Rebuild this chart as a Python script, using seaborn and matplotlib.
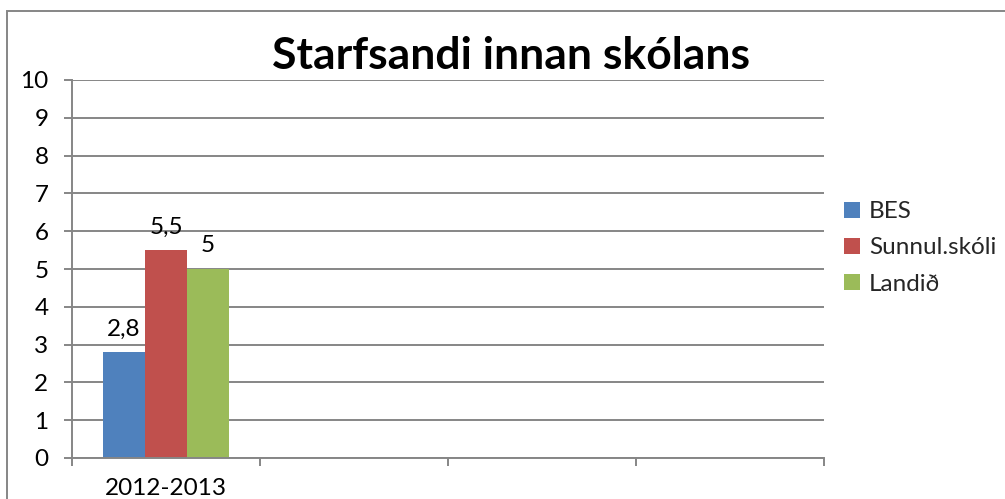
import matplotlib
matplotlib.use("Agg")
import matplotlib.pyplot as plt
from matplotlib.patches import Rectangle
import pandas as pd
import seaborn as sns

# Category slots along the x axis (only the first one holds data)
periods = ["2012-2013", "", " ", "  "]
# Series shown in the legend
schools = ["BES", "Sunnul.skóli", "Landið"]
# Values for the first period
values = [2.8, 5.5, 5.0]
colors = ["#4F81BD", "#C0504D", "#9BBB59"]
y_ticks = list(range(0, 11))

df = pd.DataFrame({
    "period": [periods[0]] * len(schools),
    "school": schools,
    "value": values,
})

sns.set_theme(style="white")
plt.rcParams["font.family"] = ["Lato", "DejaVu Sans"]

fs = 17.5
grid_col = "#868686"
fig = plt.figure(figsize=(10.05, 4.99), dpi=100)
ax = fig.add_axes([72 / 1005, 1 - 458 / 499, (824 - 72) / 1005, (458 - 80) / 499])

sns.barplot(data=df, x="period", y="value", hue="school", order=periods,
            hue_order=schools, palette=colors, width=0.67, saturation=1,
            edgecolor="none", linewidth=0, ax=ax, legend=True)

for cont in ax.containers:
    labs = [f"{v:g}".replace(".", ",") for v in cont.datavalues]
    ax.bar_label(cont, labels=labs, padding=9, fontsize=fs, color="black")

ax.set_ylim(0, 10)
ax.set_xlim(-0.5, len(periods) - 0.5)
ax.set_yticks(y_ticks)
ax.set_yticklabels([str(t) for t in y_ticks], fontsize=fs, color="black")
ax.yaxis.grid(True, color=grid_col, linewidth=1.4)
ax.set_axisbelow(True)

# category boundaries carry the tick marks, the centres carry the labels
ax.set_xticks([i - 0.5 for i in range(len(periods) + 1)])
ax.set_xticklabels([])
ax.set_xticks(list(range(len(periods))), minor=True)
ax.set_xticklabels(periods, minor=True, fontsize=fs, color="black")
ax.tick_params(axis="x", which="major", direction="out", length=5.5,
               width=1.4, color=grid_col, bottom=True)
ax.tick_params(axis="x", which="minor", length=0, pad=14.5)
ax.tick_params(axis="y", direction="out", length=6, width=1.4,
               color=grid_col, left=True, pad=11)

for side in ("top", "right"):
    ax.spines[side].set_visible(False)
for side in ("left", "bottom"):
    ax.spines[side].set_color(grid_col)
    ax.spines[side].set_linewidth(1.4)

ax.set_xlabel("")
ax.set_ylabel("")

handles, labels = ax.get_legend_handles_labels()
ax.legend_.remove()
fig.legend(handles, labels, loc="center left",
           bbox_to_anchor=(834 / 1005, 1 - 248 / 499), frameon=False,
           fontsize=fs, handlelength=0.65, handleheight=0.65,
           handletextpad=0.4, labelspacing=0.62, borderaxespad=0)

fig.text(511 / 1005, 1 - 56 / 499, "Starfsandi innan skólans",
         ha="center", va="center", fontsize=32, fontweight="bold",
         color="black")

# chart-area border
fig.patches.append(Rectangle((7 / 1005, -0.5), 2.0, 1.5 - 11 / 499,
                             transform=fig.transFigure, fill=False,
                             edgecolor=grid_col, linewidth=1.4,
                             clip_on=False))

fig.savefig("out.png", dpi=100, facecolor="white")
